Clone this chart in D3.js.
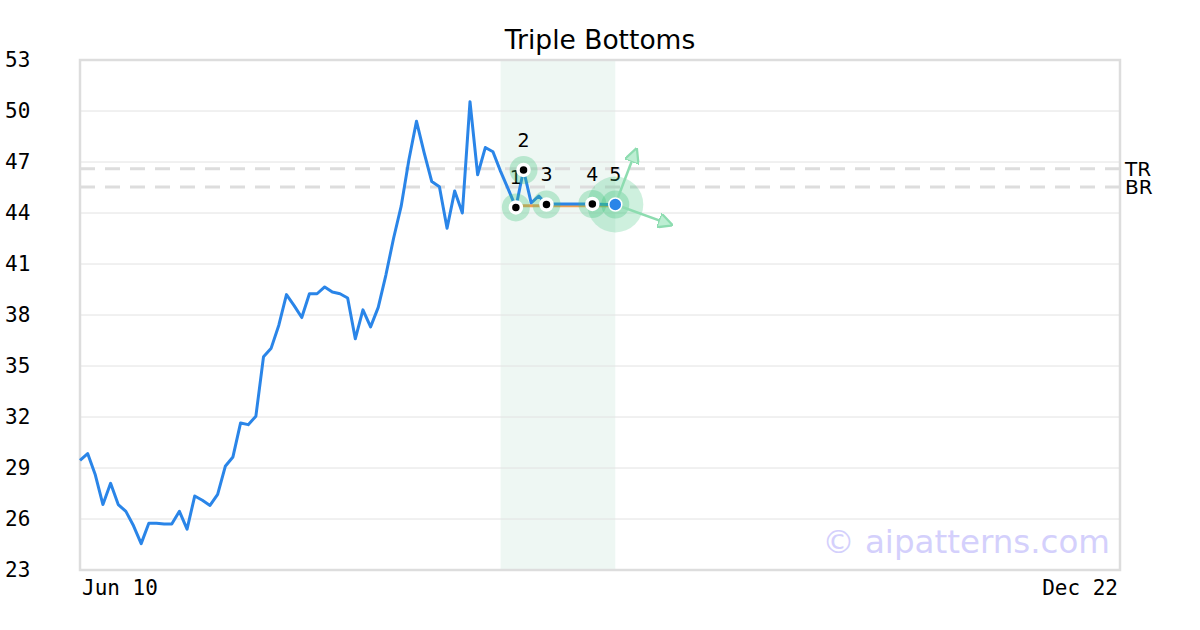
<!DOCTYPE html>
<html>
<head>
<meta charset="utf-8">
<script src="https://cdn.jsdelivr.net/npm/d3@7"></script>
<style>
  body { margin: 0; background: #fff; }
  svg { display: block; }
</style>
</head>
<body>
<div id="chart"></div>
<script>
// closing prices, one per trading day starting Jun 10
const prices = [
  29.45, 29.85, 28.6, 26.85, 28.1, 26.85, 26.45, 25.6, 24.55, 25.75,
  25.75, 25.7, 25.7, 26.45, 25.4, 27.35, 27.1, 26.8, 27.45, 29.1,
  29.65, 31.65, 31.55, 32.05, 35.55, 36.05, 37.4, 39.2, 38.55, 37.85,
  39.25, 39.25, 39.65, 39.35, 39.25, 39.0, 36.6, 38.3, 37.3, 38.45,
  40.35, 42.5, 44.4, 47.1, 49.4, 47.55, 45.85, 45.55, 43.1, 45.3,
  44.0, 50.55, 46.25, 47.85, 47.6, 46.45, 45.4, 44.33, 46.53, 44.6,
  45.0, 44.5, 44.53, 44.53, 44.53, 44.53, 44.53, 44.53, 44.52, 44.5,
  44.5
];

const lastIndex = 136;           // index of Dec 22
const xTickIdx = [0, 136];
const xTickLabels = ["Jun 10", "Dec 22"];
const yTicks = [23, 26, 29, 32, 35, 38, 41, 44, 47, 50, 53];

// pattern
const patternIdx = [57, 58, 61, 67, 70];
const patternLabels = ["1", "2", "3", "4", "5"];
const zoneIdx = [55, 70];
const supportLevel = 44.42;
const levelNames = ["TR", "BR"];
const levelValues = [46.6, 45.53];
// arrows from the last pattern point (dx in index, value)
const arrowTargets = [[2.75, 47.75], [7.35, 43.3]];

const width = 1200, height = 630;
const margin = {top: 60, right: 80, bottom: 60, left: 80};

const svg = d3.select("#chart")
  .append("svg")
    .attr("width", width)
    .attr("height", height);

const x = d3.scaleLinear().domain([0, lastIndex]).range([margin.left, width - margin.right]);
const y = d3.scaleLinear().domain([23, 53]).range([height - margin.bottom, margin.top]);

// title
svg.append("text")
  .attr("x", width / 2)
  .attr("y", 40)
  .attr("dy", "0.35em")
  .attr("text-anchor", "middle")
  .style("font-family", "DejaVu Sans")
  .style("font-size", "26.5px")
  .text("Triple Bottoms");

// pattern zone
svg.append("rect")
  .attr("x", x(zoneIdx[0]))
  .attr("y", y(53))
  .attr("width", x(zoneIdx[1]) - x(zoneIdx[0]))
  .attr("height", y(23) - y(53))
  .style("fill", "#eef7f3");

// grid
svg.append("g")
  .selectAll("line")
  .data(yTicks.slice(1, -1))
  .join("line")
    .attr("x1", x(0)).attr("x2", x(lastIndex))
    .attr("y1", d => y(d)).attr("y2", d => y(d))
    .style("stroke", "#e2e2e2")
    .style("stroke-width", 1);

// y tick labels
svg.append("g")
  .selectAll("text")
  .data(yTicks)
  .join("text")
    .attr("x", 5)
    .attr("y", d => y(d))
    .attr("dy", "0.35em")
    .style("font-family", "DejaVu Sans Mono")
    .style("font-size", "21px")
    .text(d => d);

// x tick labels
svg.append("g")
  .selectAll("text")
  .data(xTickIdx)
  .join("text")
    .attr("x", (d, i) => i === 0 ? x(d) + 2 : x(d) - 2)
    .attr("y", height - margin.bottom + 18)
    .attr("dy", "0.35em")
    .attr("text-anchor", (d, i) => i === 0 ? "start" : "end")
    .style("font-family", "DejaVu Sans Mono")
    .style("font-size", "21px")
    .text((d, i) => xTickLabels[i]);

// level lines TR / BR
svg.append("g")
  .selectAll("line")
  .data(levelValues)
  .join("line")
    .attr("x1", x(0)).attr("x2", x(lastIndex))
    .attr("y1", d => y(d)).attr("y2", d => y(d))
    .style("stroke", "#dddddd")
    .style("stroke-width", 3)
    .style("stroke-dasharray", "15,10");

svg.append("g")
  .selectAll("text")
  .data(levelValues)
  .join("text")
    .attr("x", x(lastIndex) + 5)
    .attr("y", d => y(d))
    .attr("dy", "0.35em")
    .style("font-family", "DejaVu Sans")
    .style("font-size", "20px")
    .text((d, i) => levelNames[i]);

// frame
svg.append("rect")
  .attr("x", x(0))
  .attr("y", y(53))
  .attr("width", x(lastIndex) - x(0))
  .attr("height", y(23) - y(53))
  .style("fill", "none")
  .style("stroke", "#dddddd")
  .style("stroke-width", 2.5);

// watermark
svg.append("text")
  .attr("x", x(lastIndex) - 10)
  .attr("y", 553)
  .attr("text-anchor", "end")
  .style("font-family", "DejaVu Sans")
  .style("font-size", "32.5px")
  .style("fill", "#d4d0fc")
  .text("\u00a9 aipatterns.com");

// support line
svg.append("line")
  .attr("x1", x(patternIdx[0])).attr("x2", x(patternIdx[4]))
  .attr("y1", y(supportLevel)).attr("y2", y(supportLevel))
  .style("stroke", "#f0a050")
  .style("stroke-width", 3);

// price line
const line = d3.line()
  .x((d, i) => x(i))
  .y(d => y(d));

svg.append("path")
  .datum(prices)
  .attr("d", line)
  .style("fill", "none")
  .style("stroke", "#2a85e8")
  .style("stroke-width", 3)
  .style("stroke-linejoin", "round");

// point labels
svg.append("g")
  .selectAll("text")
  .data(patternIdx)
  .join("text")
    .attr("x", d => x(d))
    .attr("y", d => y(prices[d]) - 30)
    .attr("dy", "0.35em")
    .attr("text-anchor", "middle")
    .style("font-family", "DejaVu Sans")
    .style("font-size", "19px")
    .text((d, i) => patternLabels[i]);

// halos
const last = patternIdx[patternIdx.length - 1];
svg.append("circle")
  .attr("cx", x(last))
  .attr("cy", y(prices[last]))
  .attr("r", 28)
  .style("fill", "#3cc47c")
  .style("opacity", 0.25);

svg.append("g")
  .selectAll("circle")
  .data(patternIdx)
  .join("circle")
    .attr("cx", d => x(d))
    .attr("cy", d => y(prices[d]))
    .attr("r", 14)
    .style("fill", "#3cc47c")
    .style("opacity", 0.3);

// arrows
const defs = svg.append("defs");
defs.append("marker")
  .attr("id", "arrow")
  .attr("viewBox", "0 0 10 10")
  .attr("refX", 9)
  .attr("refY", 5)
  .attr("markerWidth", 6)
  .attr("markerHeight", 6)
  .attr("orient", "auto")
  .append("path")
    .attr("d", "M0,0 L10,5 L0,10 Z")
    .style("fill", "#bdeed3")
    .style("stroke", "#8ddcb0")
    .style("stroke-width", 1.5);

svg.append("g")
  .selectAll("line")
  .data(arrowTargets)
  .join("line")
    .attr("x1", x(last)).attr("y1", y(prices[last]))
    .attr("x2", d => x(last + d[0])).attr("y2", d => y(d[1]))
    .style("stroke", "#8ddcb0")
    .style("stroke-width", 2.5)
    .attr("marker-end", "url(#arrow)");

// point markers
svg.append("g")
  .selectAll("circle")
  .data(patternIdx.slice(0, -1))
  .join("circle")
    .attr("cx", d => x(d))
    .attr("cy", d => y(prices[d]))
    .attr("r", 5.5)
    .style("fill", "#000")
    .style("stroke", "#fff")
    .style("stroke-width", 3.5);

svg.append("circle")
  .attr("cx", x(last))
  .attr("cy", y(prices[last]))
  .attr("r", 6.5)
  .style("fill", "#2a85e8")
  .style("stroke", "#fff")
  .style("stroke-width", 1.5);
</script>
</body>
</html>
